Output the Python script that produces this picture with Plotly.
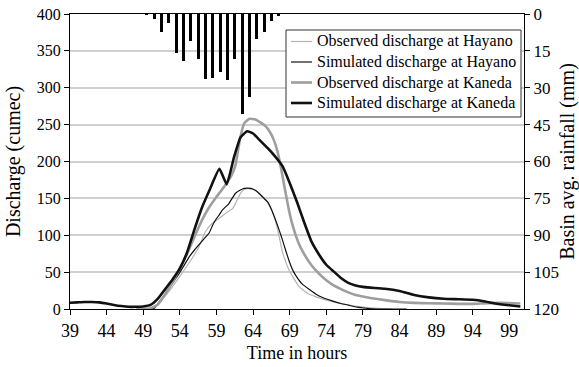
import plotly.graph_objects as go

# Hourly basin-average rainfall (mm), plotted downward from the top axis
rain_hours = [49.5, 50.5, 51.5, 52.5, 53.5, 54.5, 55.5, 56.5, 57.5, 58.5,
              59.5, 60.5, 61.5, 62.5, 63.5, 64.5, 65.5, 66.5, 67.5]
rain_mm = [0.3, 2.2, 7.2, 3.5, 16, 19, 10.8, 18.3, 26.6, 25.9,
           23.5, 26.8, 18.3, 40.8, 33.6, 10.3, 7.5, 2.8, 0.7]

# Observed discharge at Hayano (cumec)
obs_hay_t = [49.5, 50.5, 51.5, 52.5, 53.9, 55.3, 56.6, 57.5, 58.4, 59.4,
             60.3, 61.2, 61.6, 62.3, 62.8, 63.5, 64.3, 65.0, 66.0, 66.7,
             67.3, 68.0, 68.9, 70.3, 71.5, 72.6, 74.8, 77.1, 79.4, 81.0, 83.0]
obs_hay_q = [0, 2, 12, 23.5, 43, 63, 84, 105, 116, 123,
             130, 136, 143, 157, 162, 163, 161, 155, 145, 130,
             110, 78, 53, 30, 21, 16.5, 10, 5.4, 2.3, 1, 0]

# Simulated discharge at Hayano (cumec)
sim_hay_t = [50.0, 50.5, 51.2, 52.0, 52.5, 53.0, 53.9, 55.0, 55.3, 56.0,
             56.6, 57.3, 58.0, 58.5, 58.9, 59.4, 59.8, 60.7, 61.6, 62.2,
             62.8, 63.7, 64.3, 64.8, 65.3, 66.0, 66.6, 67.1, 67.6, 68.0,
             68.5, 69.0, 69.5, 70.0, 70.7, 71.6, 72.6, 73.5, 74.8, 76.0,
             77.1, 78.2, 79.4, 81.0, 85.0]
sim_hay_q = [0, 1, 10, 20, 28, 35, 48, 66, 71, 80,
             87, 95, 103, 114, 121, 128, 134, 143, 157, 161,
             163.5, 163.5, 161, 157, 152, 145, 133, 120, 106, 94,
             78, 63, 51, 43, 34, 27, 20, 15.5, 11, 7.5,
             5, 2.5, 1, 0, 0]

# Observed discharge at Kaneda (cumec)
obs_kan_t = [48.0, 49.0, 50.0, 51.0, 52.0, 53.0, 54.0, 55.0, 56.0, 57.0,
             58.0, 59.0, 60.0, 61.0, 61.6, 62.2, 62.8, 63.5, 64.3, 65.0,
             65.7, 66.3, 66.8, 67.3, 67.8, 68.3, 68.9, 69.5, 70.2, 71.0,
             72.0, 73.0, 74.0, 75.0, 76.0, 77.0, 78.0, 80.0, 82.0, 84.0,
             86.0, 88.0, 90.0, 92.0, 94.0, 96.0, 98.0, 100.5]
obs_kan_q = [0, 0, 1, 6, 20, 36, 55, 75, 98, 120,
             138, 152, 165, 180, 195, 230, 252, 258, 257, 253,
             248, 240, 230, 215, 192, 165, 134, 110, 90, 74,
             59, 48, 39, 32, 27, 22.5, 19, 15, 12, 9.5,
             8.3, 7.8, 7.5, 7, 7, 8, 8.3, 7.5]

# Simulated discharge at Kaneda (cumec)
sim_kan_t = [39, 40, 41, 42, 43, 44, 45, 46, 47, 48,
             49, 50, 51, 52, 53, 54, 55, 56, 57, 58,
             59.4, 60.4, 61.4, 62.3, 63.2, 64, 65, 66, 67, 68,
             69, 70, 71, 72, 73, 74, 75, 76, 77, 78,
             79, 80, 82, 84, 86, 88, 90, 92, 94, 95.5,
             97, 99, 100.5]
sim_kan_q = [8.5, 9, 9.5, 9.5, 9, 7.5, 5.5, 4, 3, 3,
             3.5, 5.5, 14, 27, 40, 55, 77, 108, 137, 160,
             190, 169, 206, 233, 241, 238, 228, 218, 207, 194,
             171, 145, 117, 91, 74, 60, 51, 42, 35.5, 32,
             30, 29, 27.5, 24.5, 19, 15.8, 14, 13.3, 12.5, 10.5,
             7.5, 5, 3.5]

x_ticks = list(range(39, 100, 5))
q_ticks = list(range(0, 401, 50))
rain_ticks = list(range(0, 121, 15))

FONT = "Liberation Serif"
W, H = 579, 367
ML, MR, MT, MB = 70, 55, 14, 58
PW, PH = W - ML - MR, H - MT - MB


def px_x(px):
    """Pixel column -> paper x."""
    return (px - ML) / PW


def px_y(py):
    """Pixel row (from top) -> paper y."""
    return (H - MB - py) / PH


fig = go.Figure()

fig.add_trace(go.Bar(
    x=rain_hours, y=rain_mm, yaxis="y2", width=0.42,
    marker=dict(color="black", line=dict(width=0)),
    showlegend=False, hoverinfo="skip",
))

series = [
    ("Observed discharge at Hayano", obs_hay_t, obs_hay_q, "#b4b4b4", 1.2),
    ("Simulated discharge at Hayano", sim_hay_t, sim_hay_q, "#111111", 1.2),
    ("Observed discharge at Kaneda", obs_kan_t, obs_kan_q, "#9e9e9e", 2.6),
    ("Simulated discharge at Kaneda", sim_kan_t, sim_kan_q, "#111111", 2.6),
]
for name, t, q, color, w in series:
    fig.add_trace(go.Scatter(
        x=t, y=q, name=name, mode="lines", showlegend=False,
        line=dict(color=color, width=w, shape="spline", smoothing=0.4),
    ))

# Boxed key in the upper right of the plot
shapes = [dict(
    type="rect", xref="paper", yref="paper",
    x0=px_x(286), x1=px_x(521), y0=px_y(117), y1=px_y(30),
    line=dict(color="#333333", width=1), fillcolor="white", layer="above",
)]
annotations = []
row_y = [41.5, 62, 82.5, 103]
for (name, _, _, color, w), ry in zip(series, row_y):
    shapes.append(dict(
        type="line", xref="paper", yref="paper",
        x0=px_x(291), x1=px_x(312), y0=px_y(ry), y1=px_y(ry),
        line=dict(color=color, width=w), layer="above",
    ))
    annotations.append(dict(
        xref="paper", yref="paper", x=px_x(315), y=px_y(ry),
        xanchor="left", yanchor="middle", showarrow=False,
        text=name, font=dict(family=FONT, size=16, color="black"),
    ))

fig.update_layout(
    width=W, height=H,
    margin=dict(l=ML, r=MR, t=MT, b=MB, autoexpand=False),
    paper_bgcolor="white", plot_bgcolor="white",
    font=dict(family=FONT, color="black", size=16),
    showlegend=False,
    bargap=0,
    shapes=shapes,
    annotations=annotations,
    xaxis=dict(
        range=[39, 101], tickvals=x_ticks, automargin=False,
        showline=True, linecolor="black", linewidth=1.2, mirror=True,
        ticks="outside", ticklen=5, tickcolor="black",
        showgrid=False, zeroline=False,
        tickfont=dict(size=18),
        title=dict(text="Time in hours", font=dict(size=18), standoff=6),
    ),
    yaxis=dict(
        range=[0, 400], tickvals=q_ticks, automargin=False,
        showline=True, linecolor="black", linewidth=1.2,
        ticks="outside", ticklen=5, tickcolor="black",
        showgrid=True, gridcolor="#d0d0d0", gridwidth=1.6,
        zeroline=False,
        tickfont=dict(size=16),
        title=dict(text="Discharge (cumec)", font=dict(size=20), standoff=10),
    ),
    yaxis2=dict(
        range=[120, 0], tickvals=rain_ticks, overlaying="y", side="right",
        automargin=False,
        showline=True, linecolor="black", linewidth=1.2,
        ticks="outside", ticklen=5, tickcolor="black",
        showgrid=False, zeroline=False,
        tickfont=dict(size=17),
        title=dict(text="Basin avg. rainfall (mm)", font=dict(size=20), standoff=2),
    ),
)

fig.write_html("out.html")
